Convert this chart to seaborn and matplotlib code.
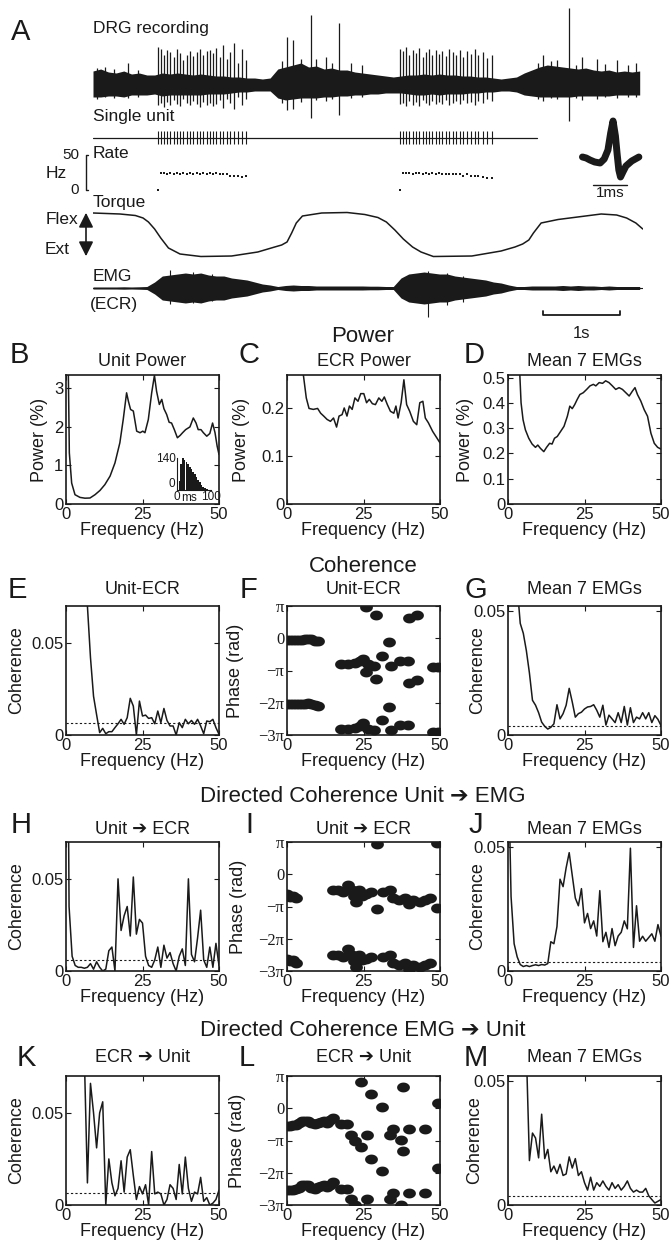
import numpy as np
import pandas as pd
import matplotlib
matplotlib.use("Agg")
import matplotlib.pyplot as plt
import seaborn as sns
from matplotlib.path import Path

# ---------------- panel A data (time in s) ----------------
env_t = np.round(np.arange(0, 7.15, 0.1), 2)
drg_up = [14, 16, 13, 12, 14, 11, 12, 10, 10, 12, 11, 12, 11, 10, 11, 10, 9, 9, 8, 8,
          7, 7, 6, 7, 16, 18, 20, 22, 18, 19, 16, 17, 15, 15, 13, 12, 11, 10, 9, 8,
          9, 10, 10, 11, 10, 11, 10, 10, 9, 9, 8, 8, 7, 6, 7, 8, 12, 15, 18, 20,
          19, 18, 17, 16, 17, 15, 14, 15, 13, 14, 13, 14]
drg_lo = [12, 12, 11, 11, 12, 10, 10, 10, 9, 11, 10, 10, 10, 10, 10, 9, 9, 9, 8, 7,
          7, 6, 6, 6, 13, 15, 14, 13, 13, 13, 12, 12, 11, 11, 10, 10, 9, 9, 8, 8,
          8, 9, 10, 10, 9, 10, 9, 9, 9, 8, 8, 7, 7, 6, 6, 7, 10, 11, 12, 12,
          12, 12, 12, 11, 11, 11, 11, 11, 10, 10, 10, 10]
emg_amp = [1, 1, 1, 1, 1.2, 1, 1.2, 1.5, 6, 12, 13, 14, 15, 14, 15, 13, 12, 12, 10, 9,
           8, 6, 4, 3, 1.5, 2.5, 3, 2.5, 2.5, 2, 2, 2, 2, 2, 2, 2, 1.8, 1.8, 1.5, 1.5,
           10, 14, 15, 16, 15, 14, 14, 12, 11, 10, 9, 8, 6, 5, 3, 1.5, 1.5, 2, 2, 2,
           2, 2.5, 2, 2.5, 2, 2, 1.5, 2, 1.5, 1.5, 1.5, 1.5]

# single unit spike times, two bursts
burst1 = [0.84, 0.88, 0.92, 0.965, 1.005, 1.05, 1.09, 1.135, 1.175, 1.22, 1.26, 1.305, 1.345,
          1.39, 1.43, 1.475, 1.515, 1.56, 1.60, 1.645, 1.69, 1.735, 1.785, 1.835, 1.885, 1.94, 1.99]
burst2 = [3.99, 4.03, 4.07, 4.11, 4.155, 4.195, 4.235, 4.28, 4.32, 4.365, 4.405, 4.45, 4.49,
          4.535, 4.58, 4.625, 4.67, 4.715, 4.76, 4.81, 4.855, 4.905, 4.955, 5.005, 5.06, 5.12, 5.18]
unit_hi = [38, 36, 30, 35, 33, 28, 36, 32, 25, 30, 34, 29, 33, 36, 30, 34, 35, 32, 37, 28, 40, 26, 33, 42, 22, 36, 25,
           36, 34, 38, 30, 35, 32, 37, 28, 33, 36, 30, 35, 31, 34, 29, 36, 33, 30, 35, 28, 34, 31, 36, 30, 33, 27, 30]
unit_lo = [-20, -18, -22, -17, -20, -15, -19, -21, -14, -18, -20, -16, -19, -22, -17, -20, -18, -21, -19, -15, -23, -14, -18, -24, -12, -20, -14,
           -19, -18, -21, -16, -20, -17, -21, -15, -18, -20, -16, -19, -17, -19, -15, -20, -18, -16, -19, -15, -18, -17, -20, -16, -18, -14, -16]
# other units and noise peaks in the DRG recording
other_t = [0.05, 0.15, 0.27, 0.46, 0.58, 2.45, 2.52, 2.60, 2.70, 2.83, 2.89, 3.02, 3.10, 3.19, 3.35, 3.50,
           5.78, 5.84, 5.95, 6.03, 6.18, 6.27, 6.35, 6.54, 6.65, 6.80, 6.95, 7.05]
other_hi = [17, 18, 16, 22, 15, 24, 48, 45, 26, 70, 26, 28, 22, 62, 22, 20,
            22, 30, 24, 25, 77, 20, 28, 26, 21, 25, 20, 22]
other_lo = [-14, -12, -13, -13, -12, -18, -25, -24, -17, -33, -15, -16, -14, -30, -13, -12,
            -14, -16, -13, -14, -36, -13, -15, -14, -12, -13, -12, -12]

torque_t = [0, 0.35, 0.55, 0.65, 0.72, 0.80, 0.88, 0.98, 1.13, 1.40, 1.80, 2.14, 2.36, 2.45, 2.52, 2.58,
            2.64, 2.72, 2.97, 3.30, 3.53, 3.70, 3.81, 3.92, 4.03, 4.15, 4.26, 4.42, 4.92, 5.30, 5.48,
            5.58, 5.66, 5.72, 5.82, 6.04, 6.60, 6.80, 6.93, 7.05, 7.14]
torque_v = [22, 21, 19.5, 17, 13, 6, -3, -13, -19, -21.5, -21, -17, -12, -10, -7, 2,
            12, 19, 22, 22.5, 20.5, 17.5, 13, 5, -4, -12, -17, -21.5, -21, -16, -12,
            -9, -5, 2, 12, 15.5, 21, 20, 17, 12, 6]

emg_spk_t = [1.0, 1.3, 1.55, 4.35, 4.6, 4.8]
emg_spk_hi = [18, 16, 14, 17, 15, 12]
emg_spk_lo = [-16, -15, -13, -29, -17, -14]

wave_ms = [-0.31, -0.2, -0.09, 0.05, 0.21, 0.33, 0.44, 0.52, 0.59, 0.66, 0.71, 0.76, 0.81, 0.88, 0.97, 1.14, 1.35]
wave_amp = [1, 0, -2, -4, -5, -1, 8, 25, 37, 22, 4, -12, -19, -14, -8, -3, 1]

isi_ms = [7.5, 12.5, 17.5, 22.5, 27.5, 32.5, 37.5, 42.5, 47.5, 52.5, 57.5, 62.5, 67.5, 72.5, 77.5, 82.5, 87.5, 92.5]
isi_count = [40, 115, 140, 132, 122, 112, 102, 92, 80, 68, 56, 44, 33, 23, 15, 8, 4, 1]

# ---------------- power spectra ----------------
b_freq = [0, 0.76, 1.09, 1.85, 2.94, 4.58, 6.2, 7.84, 9.48, 11.1, 12.7, 14.4, 16.0, 17.6, 18.7, 19.8, 20.4,
          21.1, 22.0, 23.1, 24.2, 25.1, 25.8, 26.9, 28.0, 28.9, 29.6, 30.5, 31.3, 32.0, 32.9, 33.7, 34.5,
          35.4, 36.4, 37.3, 38.1, 39.1, 40.5, 41.6, 42.5, 43.2, 44.1, 44.9, 46.0, 47.0, 47.9, 48.7, 49.4, 50.0]
b_pow = [6.0, 3.4, 1.32, 0.54, 0.24, 0.17, 0.15, 0.155, 0.24, 0.35, 0.5, 0.72, 1.06, 1.58, 2.18, 2.87, 2.65,
         2.44, 2.4, 1.88, 1.84, 1.88, 1.84, 2.18, 2.87, 3.32, 2.91, 2.57, 2.7, 2.46, 2.31, 2.11, 2.09,
         1.92, 1.71, 1.77, 1.84, 1.92, 1.99, 2.22, 2.09, 1.92, 1.92, 1.84, 1.75, 1.82, 2.09, 1.84, 1.49, 1.28]
c_freq = [0, 5.35, 6.3, 7.2, 8.6, 10.0, 11.0, 12.0, 13.1, 14.2, 15.2, 16.2, 17.0, 18.0, 18.7, 19.6,
          20.4, 21.3, 22.2, 23.2, 24.1, 25.1, 26.0, 26.9, 27.9, 28.9, 30.0, 31.0, 31.8, 32.8, 33.8,
          34.9, 35.6, 36.3, 37.3, 38.2, 39.1, 40.1, 41.3, 42.4, 43.4, 44.4, 45.2, 46.2, 47.6, 49.0, 50.0]
c_pow = [0.6, 0.27, 0.222, 0.2, 0.198, 0.2, 0.19, 0.184, 0.177, 0.173, 0.18, 0.161, 0.184, 0.187, 0.201, 0.184,
         0.205, 0.198, 0.222, 0.215, 0.231, 0.231, 0.212, 0.219, 0.21, 0.208, 0.222, 0.215, 0.224, 0.208, 0.194,
         0.19, 0.205, 0.18, 0.212, 0.26, 0.208, 0.194, 0.173, 0.166, 0.212, 0.215, 0.18, 0.17, 0.152, 0.138, 0.128]
d_freq = [0, 3.83, 4.27, 4.92, 5.69, 6.78, 7.88, 8.97, 9.74, 10.6, 11.7, 12.6, 13.6, 14.4, 15.2, 16.1, 17.2,
          18.3, 19.4, 20.2, 21.0, 21.8, 22.6, 23.5, 24.6, 25.7, 26.8, 27.9, 28.7, 29.8, 30.9, 31.9, 33.0,
          34.1, 35.2, 36.3, 37.4, 38.5, 39.6, 40.7, 41.5, 42.3, 43.4, 44.5, 45.6, 46.7, 47.8, 48.9, 50.0]
d_pow = [1.5, 0.52, 0.4, 0.333, 0.293, 0.26, 0.237, 0.224, 0.233, 0.22, 0.207, 0.224, 0.24, 0.237, 0.26, 0.267, 0.287,
         0.307, 0.347, 0.387, 0.377, 0.393, 0.413, 0.433, 0.44, 0.453, 0.467, 0.473, 0.467, 0.48, 0.477, 0.487, 0.48,
         0.467, 0.453, 0.46, 0.453, 0.44, 0.427, 0.447, 0.46, 0.433, 0.407, 0.373, 0.347, 0.28, 0.24, 0.224, 0.217]

# ---------------- coherence (1 Hz grid 0..50) ----------------
coh_freq = list(range(51))
e_coh = [0.3, 0.28, 0.25, 0.2, 0.16, 0.13, 0.1, 0.07, 0.042, 0.021, 0.011, 0.0013, 0.0036, 0.0007, 0.0018,
         0.0018, 0.004, 0.0061, 0.0085, 0.0058, 0.0094, 0.0199, 0.0157, 0.0, 0.0184, 0.0103, 0.0108, 0.009,
         0.0094, 0.0061, 0.013, 0.0067, 0.0144, 0.0079, 0.0049, 0.0049, 0.0, 0.0067, 0.004, 0.0085, 0.0061,
         0.0079, 0.0058, 0.0085, 0.0049, 0.0007, 0.0076, 0.0072, 0.0085, 0.004, 0.0004]
g_coh = [0.2, 0.15, 0.1, 0.06, 0.045, 0.041, 0.034, 0.025, 0.014, 0.012, 0.009, 0.0052, 0.0035, 0.0024, 0.0031,
         0.0045, 0.0122, 0.0065, 0.0086, 0.012, 0.0188, 0.0133, 0.0072, 0.0086, 0.0092, 0.0105, 0.0113, 0.0115,
         0.0122, 0.01, 0.0072, 0.012, 0.004, 0.008, 0.0065, 0.005, 0.009, 0.005, 0.0115, 0.004, 0.011, 0.005,
         0.0072, 0.0065, 0.009, 0.0065, 0.009, 0.005, 0.0078, 0.0063, 0.0038]
h_coh = [0.3, 0.035, 0.008, 0.003, 0.002, 0.002, 0.0015, 0.002, 0.004, 0.001, 0.005, 0.002, 0.0, 0.001, 0.011,
         0.013, 0.0, 0.05, 0.022, 0.03, 0.035, 0.019, 0.051, 0.02, 0.028, 0.026, 0.008, 0.003, 0.002, 0.006,
         0.013, 0.002, 0.014, 0.007, 0.01, 0.004, 0.0, 0.008, 0.012, 0.003, 0.05, 0.009, 0.005, 0.018, 0.033,
         0.006, 0.002, 0.013, 0.002, 0.015, 0.003]
j_coh = [0.09, 0.03, 0.011, 0.0057, 0.0026, 0.0018, 0.0022, 0.0018, 0.0022, 0.0025, 0.0022, 0.0026, 0.0024,
         0.003, 0.0118, 0.011, 0.0179, 0.037, 0.034, 0.0416, 0.0477, 0.0385, 0.0294, 0.0263, 0.0332, 0.0194,
         0.0232, 0.0171, 0.0202, 0.0141, 0.0324, 0.0118, 0.0156, 0.0095, 0.0171, 0.0102, 0.0141, 0.0156, 0.0202,
         0.017, 0.0495, 0.0095, 0.0263, 0.012, 0.014, 0.012, 0.0135, 0.015, 0.012, 0.0187, 0.014]
k_coh = [0.25, 0.2, 0.15, 0.12, 0.1, 0.09, 0.08, 0.012, 0.066, 0.05, 0.031, 0.05, 0.056, 0.0, 0.025, 0.012,
         0.005, 0.009, 0.024, 0.007, 0.026, 0.03, 0.016, 0.003, 0.01, 0.006, 0.011, 0.0, 0.029, 0.006, 0.007,
         0.006, 0.0, 0.003, 0.011, 0.009, 0.003, 0.022, 0.006, 0.026, 0.009, 0.002, 0.007, 0.006, 0.015, 0.002,
         0.004, 0.0, 0.001, 0.003, 0.008]
m_coh = [0.3, 0.25, 0.2, 0.15, 0.12, 0.09, 0.062, 0.0179, 0.029, 0.027, 0.019, 0.0366, 0.0187, 0.0224, 0.0134,
         0.0157, 0.0127, 0.0164, 0.0119, 0.0125, 0.0194, 0.0149, 0.0187, 0.0119, 0.0134, 0.009, 0.006, 0.0112,
         0.006, 0.009, 0.0075, 0.0097, 0.0075, 0.006, 0.009, 0.0067, 0.0082, 0.006, 0.0075, 0.0097, 0.0067,
         0.0052, 0.006, 0.0052, 0.0052, 0.0067, 0.0037, 0.0022, 0.0008, 0.0015, 0.0022]
sig_level = {"E": 0.0063, "G": 0.0037, "H": 0.006, "J": 0.0035, "K": 0.0064, "M": 0.0037}

# ---------------- phase (units of pi, wrapped to (-pi, pi]) ----------------
f_freq = [0, 1, 2, 3, 4, 5, 6, 7, 8, 9, 10, 17.8, 20.0, 22.2, 24.0, 24.9, 25.8, 26.4, 28.4, 29.0, 30.9,
          33.4, 33.9, 36.9, 39.6, 40.0, 42.4, 47.8, 49.2]
f_phase = [-0.04, -0.04, -0.04, -0.05, -0.04, -0.04, -0.03, -0.02, -0.03, -0.07, -0.09, -0.81, -0.81, -0.78,
           -0.72, -0.64, 0.96, -0.8, -0.85, 0.73, -0.54, -0.13, -0.85, -0.69, -0.69, 0.62, 0.72, -0.9, -0.9]
i_freq = [0, 1, 2, 3, 15.1, 16.7, 18.3, 20.0, 21.1, 21.8, 22.6, 23.5, 24.4, 25.8, 27.3, 29.3, 31.4, 33.6, 34.7,
          36.7, 38.5, 40.0, 41.3, 43.4, 45.1, 46.7, 49.1]
i_phase = [-0.62, -0.7, -0.66, -0.74, -0.5, -0.5, -0.56, -0.32, -0.5, -0.68, -0.87, -0.5, -0.66, -0.62, -0.56,
           0.93, -0.56, -0.5, -0.74, -0.8, -0.74, -0.93, -0.8, -0.87, -0.8, -0.74, 0.96]
l_freq = [0, 1, 2, 3, 4, 5, 6, 7, 8, 9, 10, 11, 12, 13, 14, 15, 17.5, 19.5, 20.8, 22.2, 24.3, 26.0, 27.6, 30.9,
          33.6, 34.7, 37.4, 38.0, 40.0, 45.1, 49.5]
l_phase = [-0.54, -0.54, -0.53, -0.51, -0.47, -0.39, -0.39, -0.39, -0.47, -0.49, -0.45, -0.42, -0.39, -0.45, -0.37,
           -0.29, -0.49, -0.49, -0.82, -1.0, 0.81, -0.82, 0.44, 0.04, -0.82, -0.63, -0.99, 0.67, -0.63, -0.63, 0.16]

# ---------------- figure ----------------
sns.set_theme(style="ticks", rc={"axes.edgecolor": "k", "xtick.color": "k", "ytick.color": "k",
                                 "text.color": "k", "axes.labelcolor": "k"})
plt.rcParams["font.family"] = ["Liberation Sans", "DejaVu Sans"]

W, H = 671, 1244
fig = plt.figure(figsize=(W / 100, H / 100), dpi=100)


def px_axes(left, top, right, bottom):
    return fig.add_axes([left / W, 1 - bottom / H, (right - left) / W, (bottom - top) / H])


def ftext(x, y, s, **kw):
    kw.setdefault("va", "center")
    fig.text(x / W, 1 - y / H, s, **kw)


T_END = 550 / 77  # trace length in s (1 s = 77 px)

# DRG recording
ax = px_axes(93, 5, 643, 125)
ax.fill_between(env_t, [-v for v in drg_lo], drg_up, color="k", lw=0)
ax.vlines(burst1 + burst2, unit_lo, unit_hi, color="k", lw=0.9)
ax.vlines(other_t, other_lo, other_hi, color="k", lw=0.9)
ax.set_xlim(0, T_END)
ax.set_ylim(-40, 80)
ax.axis("off")

# single unit
ax = px_axes(93, 125, 643, 150)
ax.plot([0, 5.77], [0, 0], color="k", lw=0.9)
ax.vlines(burst1 + burst2, -0.52, 0.52, color="k", lw=0.8)
ax.set_xlim(0, T_END)
ax.set_ylim(-1, 1)
ax.axis("off")

# instantaneous rate
spikes = np.array(burst1 + burst2)
rate = np.concatenate([[0.0], 1.0 / np.diff(spikes)])
ax = px_axes(93, 145, 643, 195)
sns.scatterplot(x=spikes, y=rate, marker="s", s=3, color="k", linewidth=0, ax=ax)
ax.plot([-0.06, -0.09, -0.09, -0.06], [50, 50, 0, 0], color="k", lw=1.0, clip_on=False)
ax.set_xlim(0, T_END)
ax.set_ylim(-7.1, 64.3)
ax.axis("off")

# torque
ax = px_axes(93, 205, 643, 262)
sns.lineplot(x=torque_t, y=torque_v, color="k", lw=1.1, ax=ax)
ax.set_xlim(0, T_END)
ax.set_ylim(-27, 30)
ax.axis("off")

# EMG
ax = px_axes(93, 262, 643, 320)
ax.fill_between(env_t, [-v for v in emg_amp], emg_amp, color="k", lw=0)
ax.plot([0, T_END], [0, 0], color="k", lw=0.8)
ax.vlines(emg_spk_t, emg_spk_lo, emg_spk_hi, color="k", lw=0.8)
ax.plot([5.84, 5.84, 6.84, 6.84], [-23, -27, -27, -23], color="k", lw=1.3, clip_on=False)
ax.text(6.34, -45, "1s", ha="center", va="center", fontsize=12)
ax.set_xlim(0, T_END)
ax.set_ylim(-32, 26)
ax.axis("off")

# spike waveform (overlaid sweeps drawn as one thick trace)
ax = px_axes(578, 112, 645, 200)
sns.lineplot(x=wave_ms, y=wave_amp, color="k", lw=5, ax=ax, sort=False)
ax.plot([0, 1], [-27, -27], color="k", lw=1.0)
ax.text(0.5, -35, "1ms", ha="center", va="center", fontsize=11)
ax.set_xlim(-0.441, 1.53)
ax.set_ylim(-42, 46)
ax.axis("off")

ftext(21, 32, "A", fontsize=21, ha="center")
ftext(93, 29, "DRG recording", fontsize=12.5)
ftext(93, 117, "Single unit", fontsize=12.5)
ftext(93, 153, "Rate", fontsize=12.5)
ftext(79, 155, "50", fontsize=11, ha="right")
ftext(67, 173, "Hz", fontsize=12.5, ha="right")
ftext(79, 190, "0", fontsize=11, ha="right")
ftext(93, 202, "Torque", fontsize=12.5)
ftext(78, 220, "Flex", fontsize=12.5, ha="right")
ftext(70, 250, "Ext", fontsize=12.5, ha="right")
fig.add_artist(matplotlib.patches.FancyArrowPatch((86 / W, 1 - 259 / H), (86 / W, 1 - 210 / H),
                                                  transform=fig.transFigure, arrowstyle="<|-|>",
                                                  mutation_scale=22, color="k", lw=1.2))
ftext(93, 277, "EMG", fontsize=12.5)
ftext(90, 305, "(ECR)", fontsize=12.5)

# ---------------- spectral panels ----------------
COLS = [66, 287, 508]
ROWS = [375, 606, 842, 1076]
AW, AH = 153, 129

theta = np.linspace(0, 2 * np.pi, 40)
ellipse = Path(np.column_stack([1.3 * np.cos(theta), np.sin(theta)]), closed=True)


def freq_axes(r, c, ylim, yticks, yticklabels, ylabel, ylab_x, title):
    ax = px_axes(COLS[c], ROWS[r], COLS[c] + AW, ROWS[r] + AH)
    ax.set_xlim(0, 50)
    ax.set_ylim(*ylim)
    ax.set_xticks([0, 25, 50])
    ax.set_yticks(yticks)
    ax.set_yticklabels(yticklabels)
    ax.tick_params(direction="in", top=True, right=True, length=3.5, width=0.8, labelsize=12, pad=2)
    ax.set_xlabel("Frequency (Hz)", fontsize=13, labelpad=0)
    ax.set_ylabel(ylabel, fontsize=13)
    ax.yaxis.set_label_coords(ylab_x, 0.5)
    for sp in ax.spines.values():
        sp.set_linewidth(1.2)
    ftext(COLS[c] + AW / 2, ROWS[r] - 13 - (4 if r == 1 else 0) + (0 if r != 3 else -5), title,
          fontsize=13, ha="center")
    return ax


def trace(ax, x, y):
    sns.lineplot(x=x, y=y, color="k", lw=1.1, ax=ax)


def phase_dots(ax, freq, ph):
    ph = np.array(ph) * np.pi
    x = np.concatenate([freq, freq])
    y = np.concatenate([ph, ph - 2 * np.pi])
    sns.scatterplot(x=x, y=y, marker=ellipse, s=85, color="k", edgecolor="k", linewidth=0, ax=ax)
    ax.set_ylabel("Phase (rad)", fontsize=13)
    for lab in ax.get_yticklabels():
        lab.set_family(["Liberation Serif", "DejaVu Serif"])


PI_TICKS = [np.pi, 0, -np.pi, -2 * np.pi, -3 * np.pi]
PI_LABELS = ["π", "0", "−π", "−2π", "−3π"]
COH_Y = (0, 0.07)
COH_Y2 = (0, 0.052)

# row 1: power
ax = freq_axes(0, 0, (0, 3.33), [0, 1, 2, 3], ["0", "1", "2", "3"], "Power (%)", -0.12, "Unit Power")
trace(ax, b_freq, b_pow)
ins = px_axes(177, 458, 211, 490)
isi = pd.DataFrame({"ms": isi_ms, "count": isi_count})
sns.histplot(data=isi, x="ms", weights="count", bins=list(range(5, 100, 5)), color="k", alpha=1,
             edgecolor="k", linewidth=0, ax=ins)
ins.set_xlim(0, 100)
ins.set_ylim(0, 140)
ins.set_xticks([0, 100])
ins.set_yticks([0, 140])
ins.set_xticklabels(["0", "100"])
ins.set_yticklabels(["0", "140"])
ins.tick_params(length=0, labelsize=8.5, pad=1)
ins.set_xlabel("ms", fontsize=8.5)
ins.xaxis.set_label_coords(0.36, -0.06)
ins.xaxis.label.set_va("top")
ins.set_ylabel("")
ins.set_facecolor("none")
for s in ["top", "right"]:
    ins.spines[s].set_visible(False)
for s in ["left", "bottom"]:
    ins.spines[s].set_linewidth(0.8)
ins.get_yticklabels()[0].set_verticalalignment("bottom")

ax = freq_axes(0, 1, (0, 0.27), [0, 0.1, 0.2], ["0", "0.1", "0.2"], "Power (%)", -0.24, "ECR Power")
trace(ax, c_freq, c_pow)
ax = freq_axes(0, 2, (0, 0.51), [0, 0.1, 0.2, 0.3, 0.4, 0.5], ["0", "0.1", "0.2", "0.3", "0.4", "0.5"],
               "Power (%)", -0.22, "Mean 7 EMGs")
trace(ax, d_freq, d_pow)

# row 2: coherence
ax = freq_axes(1, 0, COH_Y, [0, 0.05], ["0", "0.05"], "Coherence", -0.27, "Unit-ECR")
trace(ax, coh_freq, e_coh)
ax.axhline(sig_level["E"], color="k", ls=(0, (2, 2)), lw=0.8)
ax = freq_axes(1, 1, (-3 * np.pi, np.pi), PI_TICKS, PI_LABELS, "Phase (rad)", -0.28, "Unit-ECR")
phase_dots(ax, f_freq, f_phase)
ax = freq_axes(1, 2, COH_Y2, [0, 0.05], ["0", "0.05"], "Coherence", -0.14, "Mean 7 EMGs")
trace(ax, coh_freq, g_coh)
ax.axhline(sig_level["G"], color="k", ls=(0, (2, 2)), lw=0.8)

# row 3: directed unit -> EMG
ax = freq_axes(2, 0, COH_Y, [0, 0.05], ["0", "0.05"], "Coherence", -0.27, "Unit ➔ ECR")
trace(ax, coh_freq, h_coh)
ax.axhline(sig_level["H"], color="k", ls=(0, (2, 2)), lw=0.8)
ax = freq_axes(2, 1, (-3 * np.pi, np.pi), PI_TICKS, PI_LABELS, "Phase (rad)", -0.26, "Unit ➔ ECR")
phase_dots(ax, i_freq, i_phase)
ax = freq_axes(2, 2, COH_Y2, [0, 0.05], ["0", "0.05"], "Coherence", -0.14, "Mean 7 EMGs")
trace(ax, coh_freq, j_coh)
ax.axhline(sig_level["J"], color="k", ls=(0, (2, 2)), lw=0.8)

# row 4: directed EMG -> unit
ax = freq_axes(3, 0, COH_Y, [0, 0.05], ["0", "0.05"], "Coherence", -0.27, "ECR ➔ Unit")
trace(ax, coh_freq, k_coh)
ax.axhline(sig_level["K"], color="k", ls=(0, (2, 2)), lw=0.8)
ax = freq_axes(3, 1, (-3 * np.pi, np.pi), PI_TICKS, PI_LABELS, "Phase (rad)", -0.27, "ECR ➔ Unit")
phase_dots(ax, l_freq, l_phase)
ax = freq_axes(3, 2, COH_Y2, [0, 0.05], ["0", "0.05"], "Coherence", -0.16, "Mean 7 EMGs")
trace(ax, coh_freq, m_coh)
ax.axhline(sig_level["M"], color="k", ls=(0, (2, 2)), lw=0.8)

# panel letters and row headings
letters = [("B", 19, 355), ("C", 249, 355), ("D", 474, 355),
           ("E", 17, 590), ("F", 249, 590), ("G", 476, 590),
           ("H", 21, 825), ("I", 249, 825), ("J", 476, 825),
           ("K", 26, 1058), ("L", 247, 1058), ("M", 476, 1058)]
for s, x, y in letters:
    ftext(x, y, s, fontsize=21, ha="center")
ftext(363, 337, "Power", fontsize=16, ha="center")
ftext(363, 567, "Coherence", fontsize=16, ha="center")
ftext(363, 797, "Directed Coherence Unit ➔ EMG", fontsize=16, ha="center")
ftext(363, 1030, "Directed Coherence EMG ➔ Unit", fontsize=16, ha="center")

fig.savefig("out.png", dpi=100, facecolor="white")
